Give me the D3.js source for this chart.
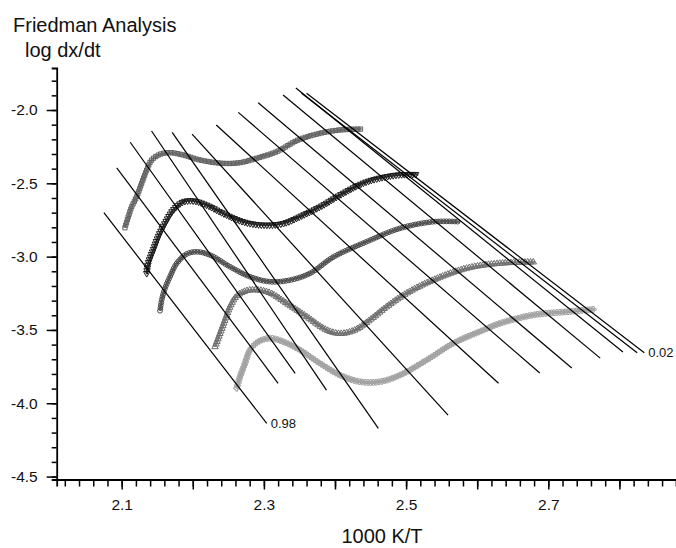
<!DOCTYPE html>
<html lang="en">
  <head>
    <meta charset="UTF-8" />
    <title>Friedman Analysis</title>
    <style>
      html,
      body {
        margin: 0;
        background: #fff;
      }
      svg text {
        font-family: "Liberation Sans", Arial, sans-serif;
        fill: #111;
      }
    </style>
    <script src="https://cdn.jsdelivr.net/npm/d3@7"></script>
  </head>

  <body>
    <script>
      const width = 676;
      const height = 548;

      // tick labels
      const xTickLabels = [2.1, 2.3, 2.5, 2.7];
      const xMidTicks = [2.2, 2.4, 2.6, 2.8];
      const yTickLabels = [-4.5, -4.0, -3.5, -3.0, -2.5, -2.0];

      // log dx/dt vs 1000 K/T, one array per heating rate (top to bottom)
      const series1 = [
        [2.1046, -2.803], [2.1093, -2.728], [2.1141, -2.66], [2.1211, -2.591],
        [2.1281, -2.5], [2.1352, -2.409], [2.1422, -2.341], [2.1539, -2.302],
        [2.1679, -2.291], [2.1866, -2.307], [2.2101, -2.341], [2.2429, -2.364],
        [2.2664, -2.359], [2.2899, -2.329], [2.318, -2.284], [2.348, -2.205],
        [2.3789, -2.159], [2.407, -2.136], [2.4376, -2.13],
      ];
      const series2 = [
        [2.1352, -3.114], [2.1374, -3.046], [2.1444, -2.955], [2.1515, -2.864],
        [2.1609, -2.773], [2.1726, -2.682], [2.1866, -2.626], [2.2007, -2.619],
        [2.2195, -2.648], [2.2429, -2.705], [2.271, -2.762], [2.2992, -2.784],
        [2.3273, -2.773], [2.3554, -2.716], [2.3835, -2.648], [2.407, -2.58],
        [2.4446, -2.489], [2.4868, -2.443], [2.5172, -2.439],
      ];
      const series3 = [
        [2.1539, -3.369], [2.1563, -3.296], [2.1609, -3.216], [2.1679, -3.137],
        [2.1774, -3.046], [2.1914, -2.982], [2.2055, -2.967], [2.2242, -2.989],
        [2.2523, -3.069], [2.2804, -3.137], [2.3086, -3.171], [2.3367, -3.16],
        [2.3648, -3.114], [2.3976, -3.003], [2.4446, -2.898], [2.4914, -2.807],
        [2.5383, -2.762], [2.5758, -2.762],
      ];
      const series4 = [
        [2.2312, -3.615], [2.2383, -3.523], [2.2453, -3.432], [2.2523, -3.342],
        [2.2617, -3.269], [2.2758, -3.233], [2.2899, -3.228], [2.3086, -3.248],
        [2.3321, -3.319], [2.3602, -3.41], [2.3883, -3.501], [2.407, -3.525],
        [2.4281, -3.501], [2.4492, -3.432], [2.4727, -3.342], [2.5008, -3.25],
        [2.5383, -3.16], [2.5852, -3.08], [2.6321, -3.046], [2.6813, -3.037],
      ];
      const series5 = [
        [2.2617, -3.898], [2.2664, -3.819], [2.2734, -3.728], [2.2804, -3.637],
        [2.2921, -3.58], [2.3086, -3.557], [2.3273, -3.58], [2.3508, -3.637],
        [2.3789, -3.728], [2.407, -3.808], [2.4352, -3.853], [2.4633, -3.853],
        [2.4914, -3.808], [2.529, -3.705], [2.5664, -3.591], [2.6086, -3.501],
        [2.6321, -3.455], [2.6789, -3.398], [2.7259, -3.376], [2.7657, -3.359],
      ];

      // iso-conversion lines: [x1, y1, x2, y2]
      const conversions = ["0.98", "", "", "", "", "", "", "", "", "", "", "", "0.02"];
      const isoLines = [
        [2.075, -2.7, 2.304, -4.137],
        [2.093, -2.394, 2.32, -3.864],
        [2.112, -2.22, 2.344, -3.796],
        [2.142, -2.143, 2.388, -3.91],
        [2.171, -2.152, 2.461, -4.171],
        [2.199, -2.164, 2.559, -4.081],
        [2.233, -2.102, 2.63, -3.864],
        [2.264, -2.016, 2.688, -3.794],
        [2.292, -1.95, 2.733, -3.76],
        [2.327, -1.898, 2.773, -3.692],
        [2.345, -1.85, 2.805, -3.651],
        [2.353, -1.886, 2.825, -3.656],
        [2.36, -1.886, 2.835, -3.656],
      ];

      const svg = d3
        .select("body")
        .append("svg")
        .attr("width", width)
        .attr("height", height);

      const x = d3.scaleLinear().domain([2.0086, 2.8796]).range([56.7, 676]);
      const y = d3.scaleLinear().domain([-4.52, -1.7135]).range([479.5, 68]);

      // series styles
      const seriesList = [
        { data: series1, color: "#606060", symbol: d3.symbolSquare },
        { data: series2, color: "#1a1a1a", symbol: d3.symbolTriangle, flip: true },
        { data: series3, color: "#474747", symbol: d3.symbolCircle },
        { data: series4, color: "#6c6c6c", symbol: d3.symbolTriangle },
        { data: series5, color: "#a0a0a0", symbol: d3.symbolCross },
      ];

      const line = d3
        .line()
        .x((d) => x(d[0]))
        .y((d) => y(d[1]))
        .curve(d3.curveCatmullRom.alpha(0.5));

      // curves drawn as dense markers along the data line
      seriesList.forEach((s) => {
        const path = svg
          .append("path")
          .attr("d", line(s.data))
          .attr("fill", "none")
          .attr("stroke", s.color)
          .attr("stroke-width", 2.5)
          .attr("opacity", 0.8);
        const node = path.node();
        const len = node.getTotalLength();
        const pts = d3.range(0, len, 2.8).map((l) => node.getPointAtLength(l));
        svg
          .append("g")
          .selectAll("path")
          .data(pts)
          .join("path")
          .attr("d", d3.symbol(s.symbol, 18))
          .attr(
            "transform",
            (p) => `translate(${p.x},${p.y})` + (s.flip ? " rotate(180)" : "")
          )
          .attr("fill", "none")
          .attr("stroke", s.color)
          .attr("stroke-width", 1);
      });

      // iso-conversion lines
      svg
        .append("g")
        .selectAll("line")
        .data(isoLines)
        .join("line")
        .attr("x1", (d) => x(d[0]))
        .attr("y1", (d) => y(d[1]))
        .attr("x2", (d) => x(d[2]))
        .attr("y2", (d) => y(d[3]))
        .attr("stroke", "#000")
        .attr("stroke-width", 1.2);

      svg
        .append("g")
        .selectAll("text")
        .data(isoLines.map((d, i) => [d, conversions[i]]).filter((d) => d[1]))
        .join("text")
        .attr("x", (d) => x(d[0][2]) + 4)
        .attr("y", (d) => y(d[0][3]) + 1)
        .attr("dominant-baseline", "middle")
        .attr("font-size", 13)
        .text((d) => d[1]);

      // axes
      const axisStyle = (g) => {
        g.select(".domain").attr("stroke", "#000").attr("stroke-width", 1.8);
        g.selectAll(".tick line").attr("stroke", "#000").attr("stroke-width", 1.5);
        g.selectAll(".tick text").attr("font-size", 15.5).attr("fill", "#111");
      };

      const yMinor = d3.range(-4.5, -1.75, 0.1);
      svg
        .append("g")
        .attr("transform", `translate(${x(x.domain()[0])},0)`)
        .call(d3.axisLeft(y).tickValues(yMinor).tickSize(5).tickFormat(""))
        .call(axisStyle);
      svg
        .append("g")
        .attr("transform", `translate(${x(x.domain()[0])},0)`)
        .call(
          d3
            .axisLeft(y)
            .tickValues(yTickLabels)
            .tickSize(10)
            .tickPadding(9)
            .tickFormat((d) => d.toFixed(1))
        )
        .call(axisStyle)
        .call((g) => g.select(".domain").remove());

      const xMinor = d3.range(2.02, 2.87, 0.02);
      svg
        .append("g")
        .attr("transform", `translate(0,${y(y.domain()[0])})`)
        .call(d3.axisBottom(x).tickValues(xMinor).tickSize(7).tickFormat(""))
        .call(axisStyle);
      svg
        .append("g")
        .attr("transform", `translate(0,${y(y.domain()[0])})`)
        .call(d3.axisBottom(x).tickValues(xMidTicks).tickSize(10).tickFormat(""))
        .call(axisStyle)
        .call((g) => g.select(".domain").remove());
      svg
        .append("g")
        .attr("transform", `translate(0,${y(y.domain()[0])})`)
        .call(
          d3
            .axisBottom(x)
            .tickValues(xTickLabels)
            .tickSize(10)
            .tickPadding(9)
            .tickFormat((d) => d.toFixed(1))
        )
        .call(axisStyle)
        .call((g) => g.select(".domain").remove());

      // titles
      svg
        .append("text")
        .attr("x", 13)
        .attr("y", 32)
        .attr("font-size", 20)
        .text("Friedman Analysis");
      svg
        .append("text")
        .attr("x", 25)
        .attr("y", 57)
        .attr("font-size", 20)
        .text("log dx/dt");
      svg
        .append("text")
        .attr("x", 382)
        .attr("y", 543)
        .attr("text-anchor", "middle")
        .attr("font-size", 20)
        .text("1000 K/T");
    </script>
  </body>
</html>
